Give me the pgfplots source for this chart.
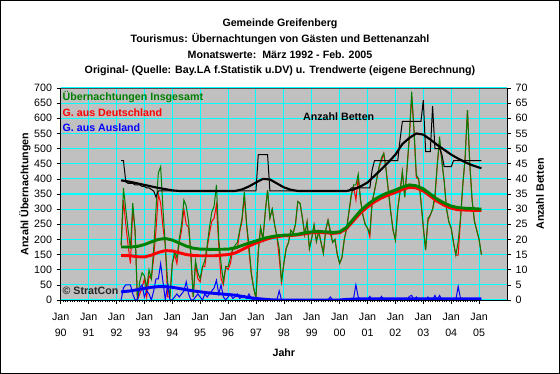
\documentclass[border=0pt]{standalone}
\usepackage{pgfplots}
\usepackage{pgfplotstable}
\pgfplotsset{compat=1.18}
\usepackage{fontspec}
\setmainfont{Liberation Sans}
\definecolor{bggray}{HTML}{C0C0C0}
\definecolor{gridcyan}{HTML}{00FFFF}
\definecolor{xlgreen}{HTML}{008000}
\definecolor{xlred}{HTML}{FF0000}
\definecolor{xlblue}{HTML}{0000FF}

% t = months since Jan 1990; G = Insgesamt, R = Deutschland, B = Ausland, K = Betten
\pgfplotstableread{
t G R B K
26 180 180 0 46
27 370 330 40 46
28 300 250 50 39
29 230 180 50 38.5
30 170 120 50 38.5
31 320 300 20 38.5
32 230 230 0 38
33 0 0 0 38
34 60 20 40 38
35 90 40 50 37.5
36 80 70 10 37.5
37 40 10 30 37
38 100 80 20 37
39 70 70 0 36.5
40 170 140 30 36
41 300 230 70 34
42 420 350 70 36
43 440 320 120 36
44 300 240 60 36
45 180 180 0 36
46 60 10 50 36
47 10 10 0 36
48 120 120 0 36
49 160 150 10 36
50 140 120 20 36
51 200 190 10 36
52 250 230 20 36
53 330 300 30 36
54 310 250 60 36
55 260 240 20 36
56 150 150 0 36
57 10 10 0 36
58 130 120 10 36
59 90 70 20 36
60 70 60 10 36
61 110 110 0 36
62 130 110 20 36
63 180 170 10 36
64 240 220 20 36
65 290 260 30 36
66 310 270 40 36
67 380 315 65 36
68 200 180 20 36
69 120 70 50 36
70 60 50 10 36
71 110 110 0 36
72 110 100 10 36
73 140 120 20 36
74 170 165 5 36
75 180 170 10 36
76 190 170 20 36
77 230 225 5 36
78 270 260 10 36
79 357 342 15 36
80 250 245 5 36
81 180 160 20 36
82 90 85 5 36
83 40 40 0 36
84 5 5 0 36
85 160 160 0 48
86 240 240 0 48
87 200 200 0 48
88 290 290 0 48
89 363 363 0 48
90 270 270 0 36
91 300 300 0 36
92 250 250 0 36
93 210 210 0 36
94 170 140 30 36
95 60 60 0 36
96 120 120 0 36
97 170 170 0 36
98 190 190 0 36
99 230 230 0 36
100 220 220 0 36
101 250 250 0 36
102 325 325 0 36
103 319 319 0 36
104 270 270 0 36
105 215 215 0 36
106 258 258 0 36
107 170 170 0 36
108 204 204 0 36
109 248 248 0 36
110 193 193 0 36
111 226 226 0 36
112 190 190 0 36
113 154 154 0 36
114 230 230 0 36
115 264 264 0 36
116 230 220 10 36
117 190 190 0 36
118 200 200 0 36
119 150 150 0 36
120 121 121 0 36
121 140 140 0 36
122 200 200 0 36
123 237 234 3 36
124 292 287 5 36
125 347 344 3 37
126 380 375 5 37
127 380 330 50 37
128 415 405 10 37
129 330 330 0 37
130 280 280 0 37
131 250 250 0 37
132 237 237 0 37
133 220 208 12 37
134 325 325 0 43
135 360 360 0 46
136 400 400 0 46
137 440 440 0 46
138 470 458 12 46
139 484 484 0 46
140 430 430 0 46
141 358 358 0 46
142 290 290 0 46
143 230 230 0 46
144 198 198 0 46
145 300 300 0 46
146 358 358 0 53
147 424 424 0 59
148 340 340 0 59
149 435 435 0 59
150 545 533 12 59
151 688 673 15 59
152 560 560 0 59
153 413 403 10 59
154 400 400 0 59
155 325 325 0 59
156 240 240 0 66
157 165 165 0 49
158 270 260 10 49
159 280 280 0 49
160 300 300 0 64
161 347 332 15 50
162 446 446 0 50
163 539 524 15 50
164 457 457 0 48
165 391 391 0 44
166 300 300 0 44
167 258 258 0 44
168 237 237 0 44
169 190 190 0 46
170 148 148 0 46
171 193 148 45 46
172 270 265 5 46
173 380 380 0 46
174 470 470 0 46
175 627 627 0 46
176 450 450 0 46
177 330 330 0 46
178 260 260 0 46
179 230 230 0 46
180 200 200 0 46
181 150 150 0 46
}\monthly

% trend values
\pgfplotstableread{
t GT RT
26 175 147
30 175 146
33 177 143
36 183 142
39 192 148
42 200 157
45 203 163
48 198 162
51 188 156
54 178 150
57 171 147
60 168 146
66 167 146
72 168 150
75 172 155
78 180 166
81 188 178
84 195 188
87 203 197
90 208 204
93 212 209
96 214 212
99 215 213
102 217 215
105 222 219
108 225 222
111 226 223
114 225 222
117 223 220
120 225 222
123 240 236
126 268 262
129 295 288
132 315 307
135 332 324
138 345 337
141 355 347
144 363 355
147 373 365
150 380 372
153 377 370
156 367 360
159 350 343
162 333 326
165 320 313
168 310 303
171 305 298
174 303 297
177 302 296
181 300 296
}\trendGR

\pgfplotstableread{
t BT
26 27
30 30
33 34
36 38
39 42
42 44
45 44
48 42
51 38
54 34
57 30
60 27
63 24
66 22
69 20
72 18
75 16
78 12
81 8
84 5
87 3
90 1
93 0
120 0
123 2
126 3
129 4
181 4
}\trendB

\pgfplotstableread{
t KT
26 39.5
30 39
33 38.5
36 38
39 37.5
42 37
45 36.6
48 36.2
51 36
75 36
78 36.5
81 37.5
84 38.8
87 40
90 39.8
93 38.5
96 37.2
99 36.4
102 36
123 36
126 36.5
129 37.5
132 38.8
135 41
138 43.2
141 45.5
144 48
147 51.5
150 53.5
153 55
156 54.6
159 53
162 51.2
165 49.6
168 48
171 46.7
174 45.5
177 44.5
181 43.5
}\trendK

\begin{document}
\begin{tikzpicture}
\fill[white] (0,0) rectangle (420pt,280.5pt);
\draw[black, line width=0.75pt] (0.375pt,0.375pt) rectangle (419.625pt,280.125pt);

% titles
\begin{scope}[every node/.style={font=\fontsize{8}{10}\selectfont\bfseries, inner sep=0pt}]
\node at (210pt,262.5pt) {Gemeinde Greifenberg};
\node at (210pt,250.9pt) {Tourismus: Übernachtungen von Gästen und Bettenanzahl};
\node at (210pt,239.25pt) {Monatswerte:\ \ März 1992 - Feb. 2005};
\node at (210pt,227.25pt) {Original- (Quelle: Bay.LA f.Statistik u.DV) u. Trendwerte (eigene Berechnung)};
\node at (212.9pt,15.75pt) {Jahr};
\node[rotate=90] at (18.75pt,135pt) {Anzahl Übernachtungen};
\node[rotate=90] at (405pt,135pt) {Anzahl Betten};
\end{scope}

\begin{axis}[
  at={(45.53pt,55.5pt)}, anchor=south west,
  scale only axis, width=334.7pt, height=159pt,
  xmin=0, xmax=192, ymin=0, ymax=700,
  xtick={0,12,...,180},
  xticklabels={Jan\\90,Jan\\91,Jan\\92,Jan\\93,Jan\\94,Jan\\95,Jan\\96,Jan\\97,Jan\\98,Jan\\99,Jan\\00,Jan\\01,Jan\\02,Jan\\03,Jan\\04,Jan\\05},
  xticklabel style={align=center, font=\fontsize{8}{12.5}\selectfont, yshift=-3pt},
  minor x tick num=11,
  ytick={0,50,...,700},
  yticklabel style={font=\fontsize{8}{10}\selectfont},
  /pgf/number format/assume math mode=true,
  grid=major,
  major grid style={gridcyan, line width=0.8pt},
  axis background/.style={fill=bggray},
  axis x line*=bottom, axis y line*=left,
  axis line style={-, black, line width=0.6pt},
  tick align=outside,
  major tick length=3pt, minor tick length=1.5pt,
  tick style={black, line width=0.5pt},
  minor tick style={black, line width=0.4pt},
  clip=true,
]
\addplot[xlred, line width=0.75pt] table[x=t, y=R] {\monthly};
\addplot[xlgreen, line width=0.75pt] table[x=t, y=G] {\monthly};
\addplot[xlblue, line width=0.75pt] table[x=t, y=B] {\monthly};
\addplot[xlred, line width=2.2pt, line join=round] table[x=t, y=RT] {\trendGR};
\addplot[xlgreen, line width=2.2pt, line join=round] table[x=t, y=GT] {\trendGR};
\addplot[xlblue, line width=2.2pt, line join=round] table[x=t, y=BT] {\trendB};
\draw[gray!60!black, line width=0.6pt] (rel axis cs:0,1) -- (rel axis cs:1,1);
\begin{scope}[every node/.style={font=\fontsize{8}{10}\selectfont\bfseries, inner sep=0pt, anchor=west}]
\node[text=xlgreen] at (axis cs:0.7,670) {Übernachtungen Insgesamt};
\node[text=xlred] at (axis cs:0.7,617) {G. aus Deutschland};
\node[text=xlblue] at (axis cs:0.7,568) {G. aus Ausland};
\node[text=black!85] at (axis cs:0.7,30) {© StratCon};
\end{scope}
\end{axis}

\begin{axis}[
  at={(45.53pt,55.5pt)}, anchor=south west,
  scale only axis, width=334.7pt, height=159pt,
  xmin=0, xmax=192, ymin=0, ymax=70,
  axis x line=none, axis y line*=right,
  axis line style={-, black, line width=0.6pt},
  ytick={0,5,...,70},
  yticklabel style={font=\fontsize{8}{10}\selectfont},
  /pgf/number format/assume math mode=true,
  tick align=outside,
  major tick length=3pt,
  tick style={black, line width=0.5pt},
  clip=true,
]
\addplot[black, line width=0.75pt] table[x=t, y=K] {\monthly};
\addplot[black, line width=1.6pt, line join=round] table[x=t, y=KT] {\trendK};
\node[font=\fontsize{8}{10}\selectfont\bfseries, inner sep=0pt] at (axis cs:119.6,60.5) {Anzahl Betten};
\end{axis}
\end{tikzpicture}
\end{document}
